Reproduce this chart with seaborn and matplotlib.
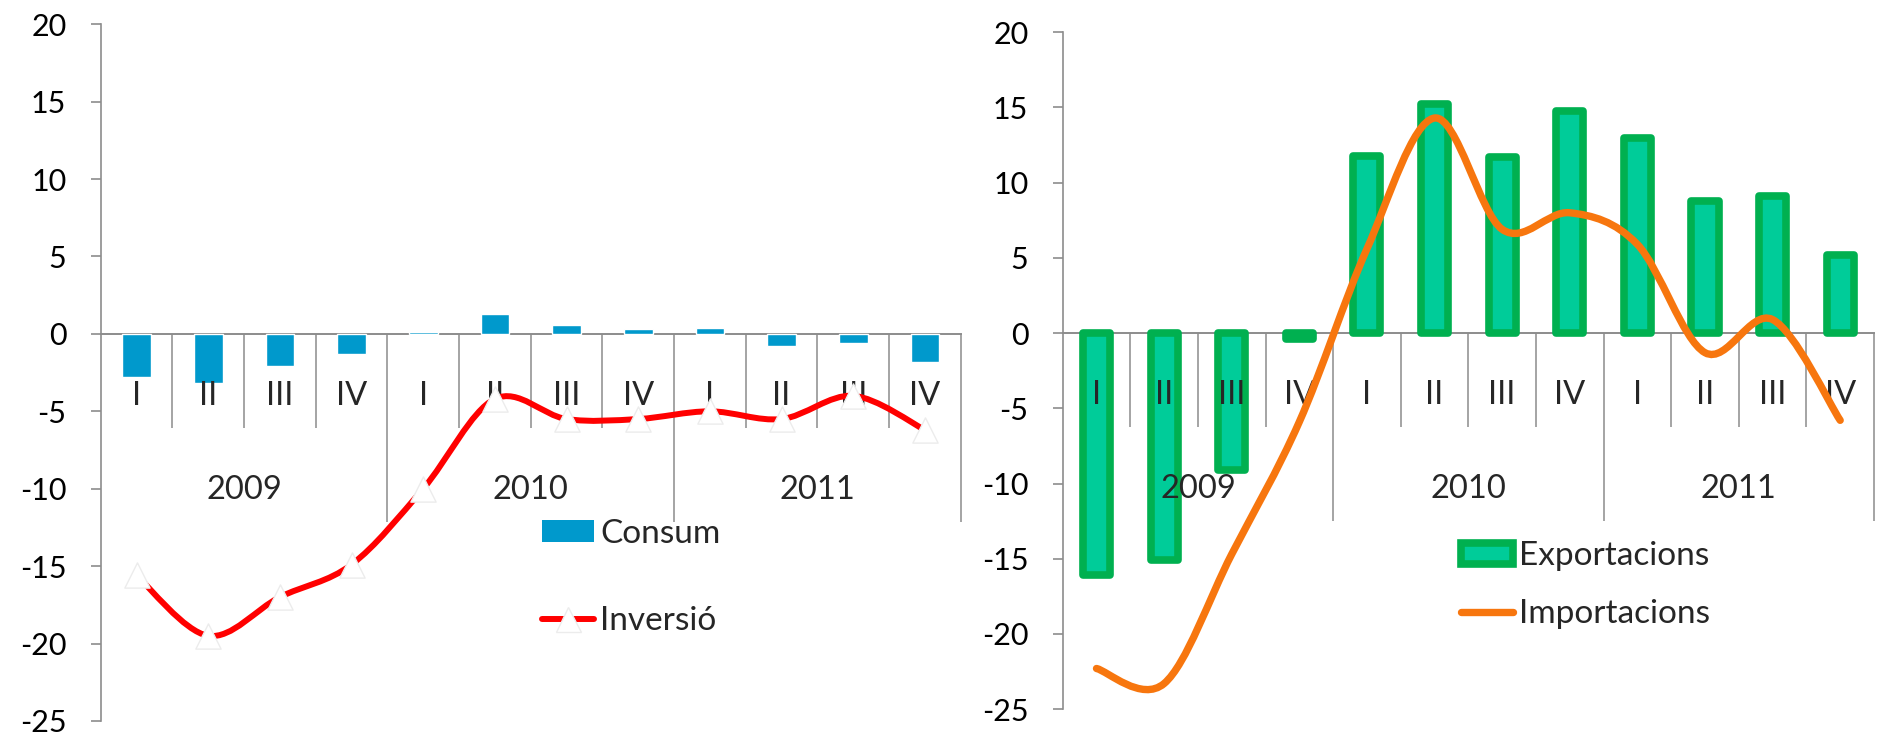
import numpy as np
import pandas as pd
import seaborn as sns
import matplotlib
matplotlib.use("Agg")
import matplotlib.pyplot as plt
from matplotlib.path import Path
from matplotlib.patches import PathPatch, Patch
from matplotlib.lines import Line2D

# quarterly data, 2009-2011
quarters = ["I", "II", "III", "IV", "I", "II", "III", "IV", "I", "II", "III", "IV"]
years = ["2009", "2010", "2011"]
consum = [-2.8, -3.2, -2.1, -1.3, 0.15, 1.3, 0.6, 0.3, 0.4, -0.8, -0.6, -1.8]
inversio = [-15.6, -19.5, -17.0, -14.9, -10.0, -4.2, -5.5, -5.5, -5.0, -5.5, -4.0, -6.2]
exportacions = [-16.1, -15.1, -9.1, -0.4, 11.8, 15.2, 11.7, 14.8, 13.0, 8.8, 9.1, 5.2]
importacions = [-22.3, -23.3, -14.7, -5.9, 5.6, 14.3, 6.9, 8.0, 5.9, -1.3, 0.9, -5.8]

sns.set_theme(style="white")
plt.rcParams["font.family"] = ["Lato", "DejaVu Sans"]
plt.rcParams["axes.unicode_minus"] = False

GRAY = "#8c8c8c"
W, H, DPI = 1878, 736, 100

fig = plt.figure(figsize=(W / DPI, H / DPI), dpi=DPI)
# axes boxes in pixels: left, top, right, bottom
ax1 = fig.add_axes([100.7 / W, 1 - 720.9 / H, 860 / W, (720.9 - 24.3) / H])
ax2 = fig.add_axes([1062.7 / W, 1 - 709.1 / H, 811.3 / W, (709.1 - 32.3) / H])

pos = list(range(len(quarters)))


def smooth_curve(ax, xs, ys, **kw):
    # excel-like smoothed line: cubic bezier through every point
    xs = np.asarray(xs, float)
    ys = np.asarray(ys, float)
    px = np.concatenate([[xs[0]], xs, [xs[-1]]])
    py = np.concatenate([[ys[0]], ys, [ys[-1]]])
    verts = [(xs[0], ys[0])]
    codes = [Path.MOVETO]
    for i in range(1, len(xs)):
        c1 = (px[i] + (px[i + 1] - px[i - 1]) / 6, py[i] + (py[i + 1] - py[i - 1]) / 6)
        c2 = (px[i + 1] - (px[i + 2] - px[i]) / 6, py[i + 1] - (py[i + 2] - py[i]) / 6)
        verts += [c1, c2, (px[i + 1], py[i + 1])]
        codes += [Path.CURVE4] * 3
    patch = PathPatch(Path(verts, codes), facecolor="none", **kw)
    ax.add_patch(patch)
    return patch


def style_axis(ax):
    ax.set_ylim(-25, 20)
    ax.set_xlim(-0.5, 11.5)
    ax.set_yticks(range(-25, 21, 5))
    ax.set_xticks([])
    ax.set_xlabel("")
    ax.set_ylabel("")
    ax.spines["top"].set_visible(False)
    ax.spines["right"].set_visible(False)
    ax.spines["left"].set_color(GRAY)
    ax.spines["left"].set_linewidth(1.2)
    ax.spines["bottom"].set_position(("data", 0))
    ax.spines["bottom"].set_color(GRAY)
    ax.spines["bottom"].set_linewidth(1.4)
    ax.tick_params(axis="y", direction="out", length=7.2, width=1.2, color=GRAY,
                   pad=17.5, labelsize=22, labelcolor="black", left=True)
    # multi-level category axis
    px_per_unit = ax.get_window_extent().height / 45
    for i, q in enumerate(quarters):
        ax.annotate(q, xy=(i, 0), xytext=(0, -51), textcoords="offset points",
                    ha="center", va="baseline", fontsize=23.5, zorder=3.5)
    for k, yr in enumerate(years):
        ax.annotate(yr, xy=(4 * k + 1.5, 0), xytext=(0, -119), textcoords="offset points",
                    ha="center", va="baseline", fontsize=23.5, zorder=3.5)
    for i in range(len(quarters)):
        long_sep = (i + 1) % 4 == 0
        depth = (188 if long_sep else 94) / px_per_unit
        ax.vlines(i + 0.5, -depth, 0, colors=GRAY, linewidth=1.1, zorder=1, clip_on=False)


# left panel: Consum bars + Inversió line
sns.barplot(x=pos, y=consum, color="#0099CC", saturation=1, width=0.4,
            errorbar=None, ax=ax1, zorder=3)
smooth_curve(ax1, pos, inversio, edgecolor="#FF0000", linewidth=4.3, zorder=4)
sns.scatterplot(x=pos, y=inversio, marker="^", s=330, color="white",
                edgecolor="#ececec", linewidth=1, ax=ax1, zorder=5, legend=False)
style_axis(ax1)

h1 = [Patch(facecolor="#0099CC", edgecolor="none"),
      Line2D([], [], color="#FF0000", linewidth=4.3, marker="^", markersize=18,
             markerfacecolor="white", markeredgecolor="#ececec")]
ax1.legend(h1, ["Consum", "Inversió"], loc="upper left",
           bbox_to_anchor=(542 / W, 1 - 519 / H), bbox_transform=fig.transFigure,
           frameon=False, fontsize=24, borderpad=0, borderaxespad=0,
           handlelength=1.56, handleheight=0.63, handletextpad=0.18, labelspacing=1.72)

# right panel: Exportacions bars + Importacions line
sns.barplot(x=pos, y=exportacions, color="#00CC99", saturation=1, width=0.4,
            edgecolor="#00B050", linewidth=5.5, errorbar=None, ax=ax2, zorder=3)
for p in ax2.patches:
    p.set_joinstyle("round")
smooth_curve(ax2, pos, importacions, edgecolor="#F7760E", linewidth=5.3,
             capstyle="round", zorder=4)
style_axis(ax2)

h2 = [Patch(facecolor="#00CC99", edgecolor="#00B050", linewidth=5.5, joinstyle="round"),
      Line2D([], [], color="#F7760E", linewidth=5.3, solid_capstyle="round")]
ax2.legend(h2, ["Exportacions", "Importacions"], loc="upper left",
           bbox_to_anchor=(1461 / W, 1 - 541 / H), bbox_transform=fig.transFigure,
           frameon=False, fontsize=24, borderpad=0, borderaxespad=0,
           handlelength=1.56, handleheight=0.6, handletextpad=0.18, labelspacing=0.85)

fig.savefig("out.png", dpi=DPI)
